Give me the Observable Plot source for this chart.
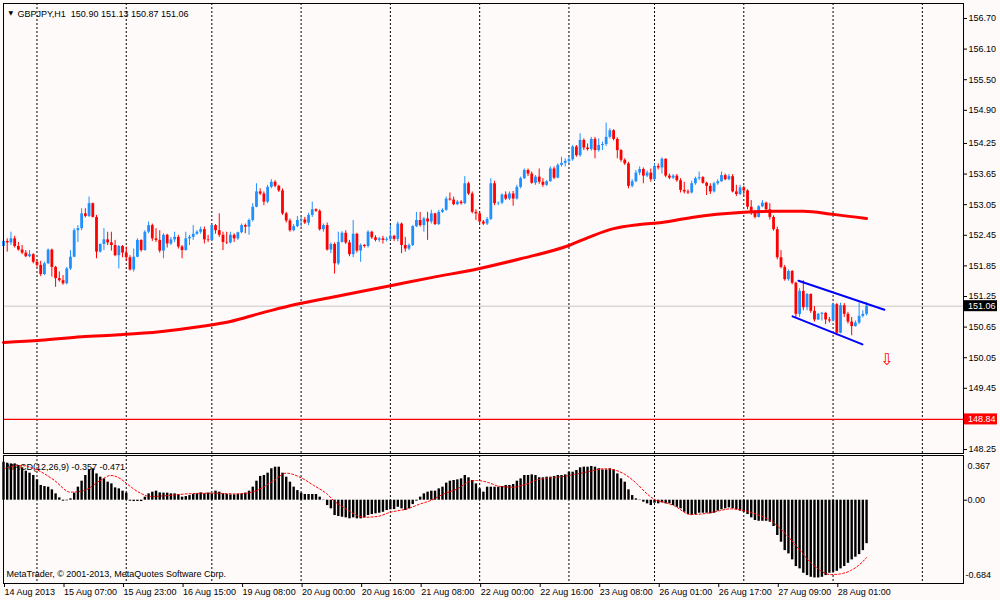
<!DOCTYPE html>
<html><head><meta charset="utf-8">
<script src="https://cdn.jsdelivr.net/npm/d3@7"></script>
<script src="https://cdn.jsdelivr.net/npm/@observablehq/plot@0.6"></script>
<style>
html,body{margin:0;padding:0;background:#fffafa;}
#chart{position:relative;width:1000px;height:600px;background:#fffafa;overflow:hidden;}
#chart svg{position:absolute;left:0;}
</style></head><body><div id="chart"></div>
<script>
// ---- data ----
const titleText = "GBPJPY,H1  150.90 151.13 150.87 151.06";
const macdTitle = "MACD(12,26,9) -0.357 -0.471";
const copyright = "MetaTrader, \u00A9 2001-2013, MetaQuotes Software Corp.";

const timeLabelIdx = [0,16,32,48,64,80,96,112,128,144,160,176,192,208,224];
const timeLabels = ["14 Aug 2013","15 Aug 07:00","15 Aug 23:00","16 Aug 15:00","19 Aug 08:00","20 Aug 00:00","20 Aug 16:00","21 Aug 08:00","22 Aug 00:00","22 Aug 16:00","23 Aug 08:00","26 Aug 01:00","26 Aug 17:00","27 Aug 09:00","28 Aug 01:00"];
const dayGridIdx = [9,33,56,80,104,128,152,175,199,223,247];
const priceTicks = [156.70,156.10,155.50,154.90,154.25,153.65,153.05,152.45,151.85,151.25,150.65,150.05,149.45,148.25];
const bidPrice = 151.06;
const levelPrice = 148.84;

const open = [
152.23,152.33,152.30,152.38,152.23,152.16,152.10,152.03,152.07,151.92,
151.86,151.68,151.89,152.16,151.82,151.60,151.56,151.50,151.79,152.02,
152.54,152.58,152.87,152.82,153.07,152.80,152.12,152.27,152.36,152.30,
152.25,152.05,152.23,152.10,152.01,151.77,152.02,152.35,152.15,152.51,
152.64,152.38,152.35,152.14,152.45,152.28,152.36,152.41,152.22,152.15,
152.38,152.41,152.47,152.51,152.56,152.36,152.35,152.64,152.54,152.45,
152.31,152.30,152.45,152.38,152.50,152.64,152.61,152.74,153.00,153.30,
153.26,153.10,153.39,153.49,153.41,153.32,152.87,152.73,152.54,152.62,
152.74,152.75,152.69,152.84,152.95,152.92,152.56,152.64,152.16,152.27,
151.89,152.31,152.49,152.30,152.07,152.47,152.14,152.25,152.23,152.51,
152.40,152.35,152.38,152.35,152.37,152.43,152.37,152.67,152.25,152.18,
152.25,152.62,152.74,152.64,152.77,152.71,152.87,152.66,152.90,152.94,
153.16,153.14,153.05,153.10,153.07,153.46,153.26,152.90,152.87,152.71,
152.67,152.76,153.46,153.07,153.08,153.24,153.16,153.26,153.16,153.39,
153.56,153.72,153.65,153.47,153.59,153.49,153.43,153.50,153.75,153.57,
153.82,153.86,153.90,153.93,154.18,154.01,154.31,154.16,154.13,154.33,
154.11,154.21,154.23,154.37,154.50,154.33,154.11,153.92,153.85,153.41,
153.50,153.67,153.74,153.61,153.67,153.54,153.80,153.77,153.94,153.61,
153.57,153.61,153.52,153.33,153.30,153.28,153.46,153.56,153.58,153.47,
153.41,153.30,153.46,153.50,153.62,153.54,153.60,153.30,153.25,153.38,
153.32,153.00,152.88,152.80,153.01,153.08,152.95,152.80,152.56,152.01,
151.82,151.58,151.74,151.51,150.90,151.35,151.03,151.29,150.96,150.79,
150.90,150.92,150.79,150.77,151.09,150.53,151.07,150.90,150.75,150.66,
150.73,150.86,150.90];

const close = [
152.33,152.30,152.38,152.23,152.16,152.10,152.03,152.07,151.92,151.86,
151.68,151.89,152.16,151.82,151.60,151.56,151.50,151.79,152.02,152.54,
152.58,152.87,152.82,153.07,152.80,152.12,152.27,152.36,152.30,152.25,
152.05,152.23,152.10,152.01,151.77,152.02,152.35,152.15,152.51,152.64,
152.38,152.35,152.14,152.45,152.28,152.36,152.41,152.22,152.15,152.38,
152.41,152.47,152.51,152.56,152.36,152.35,152.64,152.54,152.45,152.31,
152.30,152.45,152.38,152.50,152.64,152.61,152.74,153.00,153.30,153.26,
153.10,153.39,153.49,153.41,153.32,152.87,152.73,152.54,152.62,152.74,
152.75,152.69,152.84,152.95,152.92,152.56,152.64,152.16,152.27,151.89,
152.31,152.49,152.30,152.07,152.47,152.14,152.25,152.23,152.51,152.40,
152.35,152.38,152.35,152.37,152.43,152.37,152.67,152.25,152.18,152.25,
152.62,152.74,152.64,152.77,152.71,152.87,152.66,152.90,152.94,153.16,
153.14,153.05,153.10,153.07,153.46,153.26,152.90,152.87,152.71,152.67,
152.76,153.46,153.07,153.08,153.24,153.16,153.26,153.16,153.39,153.56,
153.72,153.65,153.47,153.59,153.49,153.43,153.50,153.75,153.57,153.82,
153.86,153.90,153.93,154.18,154.01,154.31,154.16,154.13,154.33,154.11,
154.21,154.23,154.37,154.50,154.33,154.11,153.92,153.85,153.41,153.50,
153.67,153.74,153.61,153.67,153.54,153.80,153.77,153.94,153.61,153.57,
153.61,153.52,153.33,153.30,153.28,153.46,153.56,153.58,153.47,153.41,
153.30,153.46,153.50,153.62,153.54,153.60,153.30,153.25,153.38,153.32,
153.00,152.88,152.80,153.01,153.08,152.95,152.80,152.56,152.01,151.82,
151.58,151.74,151.51,150.90,151.35,151.03,151.29,150.96,150.79,150.90,
150.92,150.79,150.77,151.09,150.53,151.07,150.90,150.75,150.66,150.73,
150.86,150.90,151.06];

const high = [
152.53,152.38,152.51,152.43,152.31,152.25,152.15,152.15,152.09,151.96,
151.94,151.92,152.18,152.18,151.84,151.73,151.66,151.82,152.15,152.58,
152.64,152.97,152.97,153.20,153.08,152.84,152.28,152.58,152.51,152.51,
152.35,152.25,152.25,152.22,152.05,152.18,152.38,152.36,152.54,152.71,
152.67,152.58,152.54,152.48,152.47,152.41,152.51,152.45,152.25,152.51,
152.45,152.64,152.54,152.61,152.61,152.45,152.67,152.66,152.87,152.51,
152.51,152.51,152.48,152.51,152.67,152.67,152.77,153.07,153.46,153.36,
153.30,153.43,153.54,153.52,153.43,153.36,152.90,152.77,152.66,152.82,
152.80,152.80,152.88,153.10,152.97,152.95,152.67,152.69,152.30,152.30,
152.51,152.52,152.54,152.35,152.74,152.49,152.28,152.27,152.54,152.53,
152.44,152.41,152.43,152.41,152.64,152.45,152.71,152.69,152.41,152.28,
152.64,152.90,152.90,152.80,152.90,152.94,152.88,152.94,152.97,153.20,
153.28,153.20,153.13,153.13,153.60,153.49,153.30,152.95,152.90,152.74,
152.80,153.56,153.51,153.10,153.26,153.30,153.30,153.31,153.43,153.59,
153.75,153.75,153.69,153.62,153.75,153.56,153.52,153.79,153.79,153.85,
153.98,153.95,153.98,154.21,154.21,154.44,154.34,154.24,154.37,154.37,
154.34,154.28,154.65,154.54,154.52,154.36,154.13,153.95,153.88,153.54,
153.72,153.79,153.77,153.71,153.75,153.85,153.85,153.97,153.95,153.65,
153.64,153.64,153.56,153.49,153.34,153.51,153.59,153.69,153.60,153.49,
153.46,153.49,153.54,153.69,153.65,153.64,153.64,153.43,153.43,153.41,
153.34,153.13,152.94,153.03,153.13,153.10,153.07,152.83,152.61,152.15,
151.86,151.77,151.76,151.53,151.40,151.56,151.31,151.30,151.05,150.92,
150.94,150.94,150.84,151.12,151.11,151.12,151.11,150.94,150.84,150.77,
151.12,150.97,151.13];

const low = [
152.15,152.12,152.25,152.20,152.14,152.07,152.01,152.01,151.89,151.82,
151.64,151.66,151.88,151.63,151.43,151.53,151.47,151.48,151.76,152.01,
152.31,152.54,152.79,152.80,152.79,151.99,152.10,152.15,152.25,152.14,
152.03,151.79,152.01,151.94,151.75,151.73,152.01,152.12,152.14,152.48,
152.33,152.31,152.10,151.99,152.20,152.25,152.31,152.18,151.99,152.14,
152.25,152.35,152.45,152.47,152.28,152.31,152.33,152.47,152.41,152.15,
152.27,152.28,152.31,152.35,152.48,152.48,152.45,152.71,152.99,153.23,
153.03,153.07,153.36,153.38,153.29,152.84,152.69,152.51,152.52,152.60,
152.61,152.66,152.64,152.80,152.90,152.53,152.51,152.14,152.09,151.69,
151.86,152.30,152.27,152.03,152.01,152.10,151.92,152.20,152.20,152.37,
152.32,152.31,152.28,152.32,152.35,152.33,152.32,152.09,152.12,152.15,
152.23,152.60,152.61,152.51,152.35,152.67,152.64,152.64,152.88,152.92,
153.12,153.03,153.03,153.04,153.05,153.23,152.87,152.74,152.67,152.64,
152.64,152.74,153.03,153.03,153.05,153.13,153.13,153.02,153.14,153.36,
153.54,153.60,153.45,153.43,153.45,153.39,153.41,153.49,153.54,153.56,
153.79,153.79,153.85,153.90,153.98,153.98,154.11,154.10,154.10,153.95,
154.08,154.11,154.19,154.34,154.30,153.95,153.88,153.82,153.36,153.38,
153.48,153.62,153.46,153.58,153.49,153.52,153.73,153.65,153.58,153.54,
153.54,153.49,153.28,153.26,153.25,153.26,153.43,153.52,153.45,153.23,
153.25,153.28,153.43,153.49,153.52,153.52,153.28,153.21,153.23,153.20,
152.95,152.84,152.77,152.79,152.99,152.90,152.75,152.53,151.97,151.79,
151.55,151.55,151.48,150.84,150.84,150.97,150.97,150.92,150.75,150.78,
150.77,150.70,150.73,150.75,150.48,150.52,150.84,150.71,150.48,150.65,
150.70,150.83,150.87];

// moving average (thick red line), read at sample bars
const maIdx = [0,10,21,31,42,53,61,69,77,88,104,115,128,139,152,158,164,171,177,185,199,208,215,223,232];
const maVal = [150.35,150.39,150.46,150.50,150.56,150.66,150.76,150.92,151.07,151.23,151.46,151.62,151.80,151.99,152.25,152.43,152.58,152.66,152.70,152.80,152.90,152.92,152.92,152.86,152.78];

// blue channel
const chanUpperIdx = [213.7,236.8], chanUpperVal = [151.56,150.99];
const chanLowerIdx = [212.1,230.9], chanLowerVal = [150.86,150.31];
const arrowIdx = [237.4], arrowVal = [150.01];

// MACD histogram
const macd = [
0.312,0.304,0.298,0.298,0.285,0.266,0.238,0.222,0.203,0.167,
0.121,0.112,0.107,0.085,0.052,0.019,-0.008,-0.005,0.011,0.058,
0.107,0.156,0.203,0.249,0.258,0.216,0.189,0.175,0.148,0.134,
0.101,0.093,0.074,0.058,-0.008,-0.011,-0.011,-0.011,0.025,0.052,
0.066,0.074,0.060,0.058,0.058,0.052,0.052,0.047,0.025,0.030,
0.038,0.047,0.052,0.060,0.052,0.058,0.052,0.074,0.066,0.052,
0.047,0.044,0.044,0.047,0.052,0.058,0.074,0.107,0.156,0.195,
0.203,0.222,0.258,0.271,0.271,0.222,0.189,0.148,0.107,0.079,
0.058,0.047,0.047,0.047,0.047,0.025,-0.003,-0.044,-0.071,-0.126,
-0.134,-0.140,-0.145,-0.153,-0.145,-0.153,-0.153,-0.145,-0.126,-0.118,
-0.112,-0.107,-0.099,-0.085,-0.079,-0.077,-0.058,-0.071,-0.085,-0.071,
-0.036,-0.008,0.025,0.052,0.066,0.074,0.074,0.093,0.107,0.140,
0.156,0.162,0.167,0.175,0.203,0.184,0.162,0.134,0.093,0.066,
0.107,0.107,0.107,0.107,0.112,0.121,0.121,0.129,0.156,0.175,
0.203,0.203,0.208,0.203,0.184,0.184,0.189,0.189,0.195,0.203,
0.203,0.208,0.230,0.230,0.244,0.266,0.271,0.271,0.277,0.271,
0.258,0.249,0.249,0.258,0.249,0.216,0.175,0.148,0.085,0.038,
0.011,-0.003,-0.016,-0.030,-0.044,-0.025,-0.030,-0.022,-0.030,-0.030,
-0.044,-0.058,-0.071,-0.099,-0.118,-0.126,-0.118,-0.107,-0.107,-0.107,
-0.112,-0.107,-0.090,-0.079,-0.071,-0.063,-0.071,-0.079,-0.090,-0.099,
-0.118,-0.145,-0.167,-0.173,-0.173,-0.173,-0.181,-0.216,-0.290,-0.345,
-0.414,-0.441,-0.490,-0.545,-0.564,-0.600,-0.619,-0.633,-0.638,-0.638,
-0.633,-0.619,-0.600,-0.592,-0.584,-0.564,-0.545,-0.518,-0.490,-0.468,
-0.447,-0.414,-0.357];

// MACD signal line (red dotted), read at sample bars
const sigIdx = [0,4.6,9,13.5,18,21.6,26,28.8,31.5,33.2,36.8,39.5,44,49.4,56.5,62,65.5,69,72.7,76,80,83.4,87,89,91.5,95.1,96.9,100.4,104,108.5,112.1,114.8,118.4,122,125.5,127.3,130,133.6,137.2,139.9,143.5,147,150.6,154.2,157.8,161.4,164.1,166.8,170.3,173,175.2,177.5,180.2,184.7,189.2,192.7,195.4,199,202.6,206.2,209.8,213.4,216.9,219.6,222.3,225,227.7,230.8,232];
const sigVal = [0.258,0.285,0.249,0.167,0.066,0.079,0.162,0.203,0.175,0.134,0.058,0.030,0.038,0.052,0.058,0.052,0.058,0.093,0.162,0.222,0.184,0.121,0.050,-0.010,-0.060,-0.125,-0.140,-0.134,-0.099,-0.071,-0.030,-0.003,0.052,0.093,0.156,0.162,0.148,0.112,0.107,0.126,0.167,0.184,0.195,0.216,0.238,0.258,0.249,0.216,0.134,0.052,0.003,-0.016,-0.044,-0.118,-0.107,-0.085,-0.071,-0.085,-0.118,-0.167,-0.263,-0.386,-0.510,-0.578,-0.611,-0.605,-0.578,-0.510,-0.471];
const macdTicks = [0.367, 0.00, -0.684];

// ---- build ----
const BULL = "#1e90ff", BEAR = "#ff0000";
const bars = close.map((c, i) => ({i, o: open[i], h: high[i], l: low[i], c}));
const upBars = bars.filter(d => d.c >= d.o);
const dnBars = bars.filter(d => d.c < d.o);
const ma = maIdx.map((i, k) => ({i, p: maVal[k]}));
const chanU = chanUpperIdx.map((i, k) => ({i, p: chanUpperVal[k]}));
const chanL = chanLowerIdx.map((i, k) => ({i, p: chanLowerVal[k]}));
const sig = sigIdx.map((i, k) => ({i, v: sigVal[k]}));
const hist = macd.map((v, i) => ({i, v}));

const FONT = "'Liberation Sans', Arial, sans-serif";
const STYLE = `background:transparent;font:9px ${FONT};color:black;overflow:visible;`;
const X_DOMAIN = [0, 258.06];
const common = {width: 1000, marginLeft: 3, marginRight: 37, x: {domain: X_DOMAIN, axis: null}, style: STYLE};

const pricePlot = Plot.plot({
  ...common, height: 455, marginTop: 3, marginBottom: 2,
  y: {domain: [148.172, 156.994], axis: null},
  marks: [
    Plot.ruleX(dayGridIdx, {stroke: "black", strokeDasharray: "2,2", strokeWidth: 1}),
    Plot.ruleY([bidPrice], {stroke: "#c8c8c8", strokeWidth: 1}),
    Plot.ruleY([levelPrice], {stroke: "#ff0000", strokeWidth: 1.2}),
    Plot.ruleX(upBars, {x: "i", y1: "l", y2: "h", stroke: BULL, strokeWidth: 1}),
    Plot.ruleX(dnBars, {x: "i", y1: "l", y2: "h", stroke: BEAR, strokeWidth: 1}),
    Plot.ruleX(upBars, {x: "i", y1: "o", y2: "c", stroke: BULL, strokeWidth: 2.8}),
    Plot.ruleX(dnBars, {x: "i", y1: "o", y2: "c", stroke: BEAR, strokeWidth: 2.8}),
    Plot.line(ma, {x: "i", y: "p", stroke: "#ff0000", strokeWidth: 3, curve: "monotone-x"}),
    Plot.line(chanU, {x: "i", y: "p", stroke: "#0000ff", strokeWidth: 2}),
    Plot.line(chanL, {x: "i", y: "p", stroke: "#0000ff", strokeWidth: 2}),
    Plot.text(arrowIdx, {x: d => d, y: (d, k) => arrowVal[k], text: () => "\u21E9", fill: "#ff0000", fontSize: 16, fontFamily: "DejaVu Sans"}),
    Plot.text(["\u25BC"], {frameAnchor: "top-left", dx: 5, dy: 7, fontSize: 6, fontFamily: "DejaVu Sans", fill: "black"}),
    Plot.text([titleText], {frameAnchor: "top-left", dx: 14, dy: 7, textAnchor: "start", fill: "black"}),
    Plot.frame({stroke: "black"}),
    Plot.axisY({anchor: "right", ticks: priceTicks, tickFormat: d => d.toFixed(2), tickSize: 3, tickPadding: 2, label: null})
  ]
});
pricePlot.style.top = "0px";

const macdPlot = Plot.plot({
  ...common, height: 147, marginTop: 2, marginBottom: 17,
  y: {domain: [-0.684, 0.367], axis: null},
  marks: [
    Plot.ruleX(dayGridIdx, {stroke: "black", strokeDasharray: "2,2", strokeWidth: 1}),
    Plot.text([macdTitle], {frameAnchor: "top-left", dx: 3, dy: 8, textAnchor: "start", fill: "black"}),
    Plot.ruleX(hist, {x: "i", y1: 0, y2: "v", stroke: "black", strokeWidth: 2.4}),
    Plot.line(sig, {x: "i", y: "v", stroke: "#ff0000", strokeWidth: 1, strokeDasharray: "2,2", curve: "monotone-x"}),
    Plot.text([copyright], {frameAnchor: "bottom-left", dx: 3, dy: -7, textAnchor: "start", fill: "black"}),
    Plot.frame({stroke: "black"}),
    Plot.axisY({anchor: "right", ticks: [0], tickSize: 3, tickFormat: () => "", label: null}),
    Plot.text([macdTicks[0]], {frameAnchor: "top-right", dx: 4, dy: 7, textAnchor: "start", text: d => d.toFixed(3), fill: "black"}),
    Plot.text([macdTicks[1]], {y: d => d, frameAnchor: "right", dx: 4, textAnchor: "start", text: d => d.toFixed(2), fill: "black"}),
    Plot.text([macdTicks[2]], {frameAnchor: "bottom-right", dx: 2, dy: -6, textAnchor: "start", text: d => d.toFixed(3), fill: "black"}),
    Plot.axisX({anchor: "bottom", ticks: timeLabelIdx, tickFormat: d => timeLabels[timeLabelIdx.indexOf(d)], tickSize: 4, tickPadding: 1, textAnchor: "start", dx: 1, label: null})
  ]
});
macdPlot.style.top = "453px";

const root = document.getElementById("chart");
root.appendChild(pricePlot);
root.appendChild(macdPlot);

// highlighted price labels on the right axis, positioned with the plot's own scales
const ys = pricePlot.scale("y"), xs = pricePlot.scale("x");
const svg = d3.select(pricePlot);
const xr = xs.apply(X_DOMAIN[1]);
[[bidPrice, "#000000"], [levelPrice, "#ff0000"]].forEach(([v, fill]) => {
  const y = ys.apply(v);
  svg.append("rect").attr("x", xr + 1).attr("y", y - 5.5).attr("width", 33).attr("height", 11).attr("fill", fill);
  svg.append("text").attr("x", xr + 5).attr("y", y).attr("dy", "0.35em").attr("fill", "white")
    .attr("text-anchor", "start")
    .style("font", `9px ${FONT}`).style("text-anchor", "start").text(v.toFixed(2));
});
</script></body></html>
